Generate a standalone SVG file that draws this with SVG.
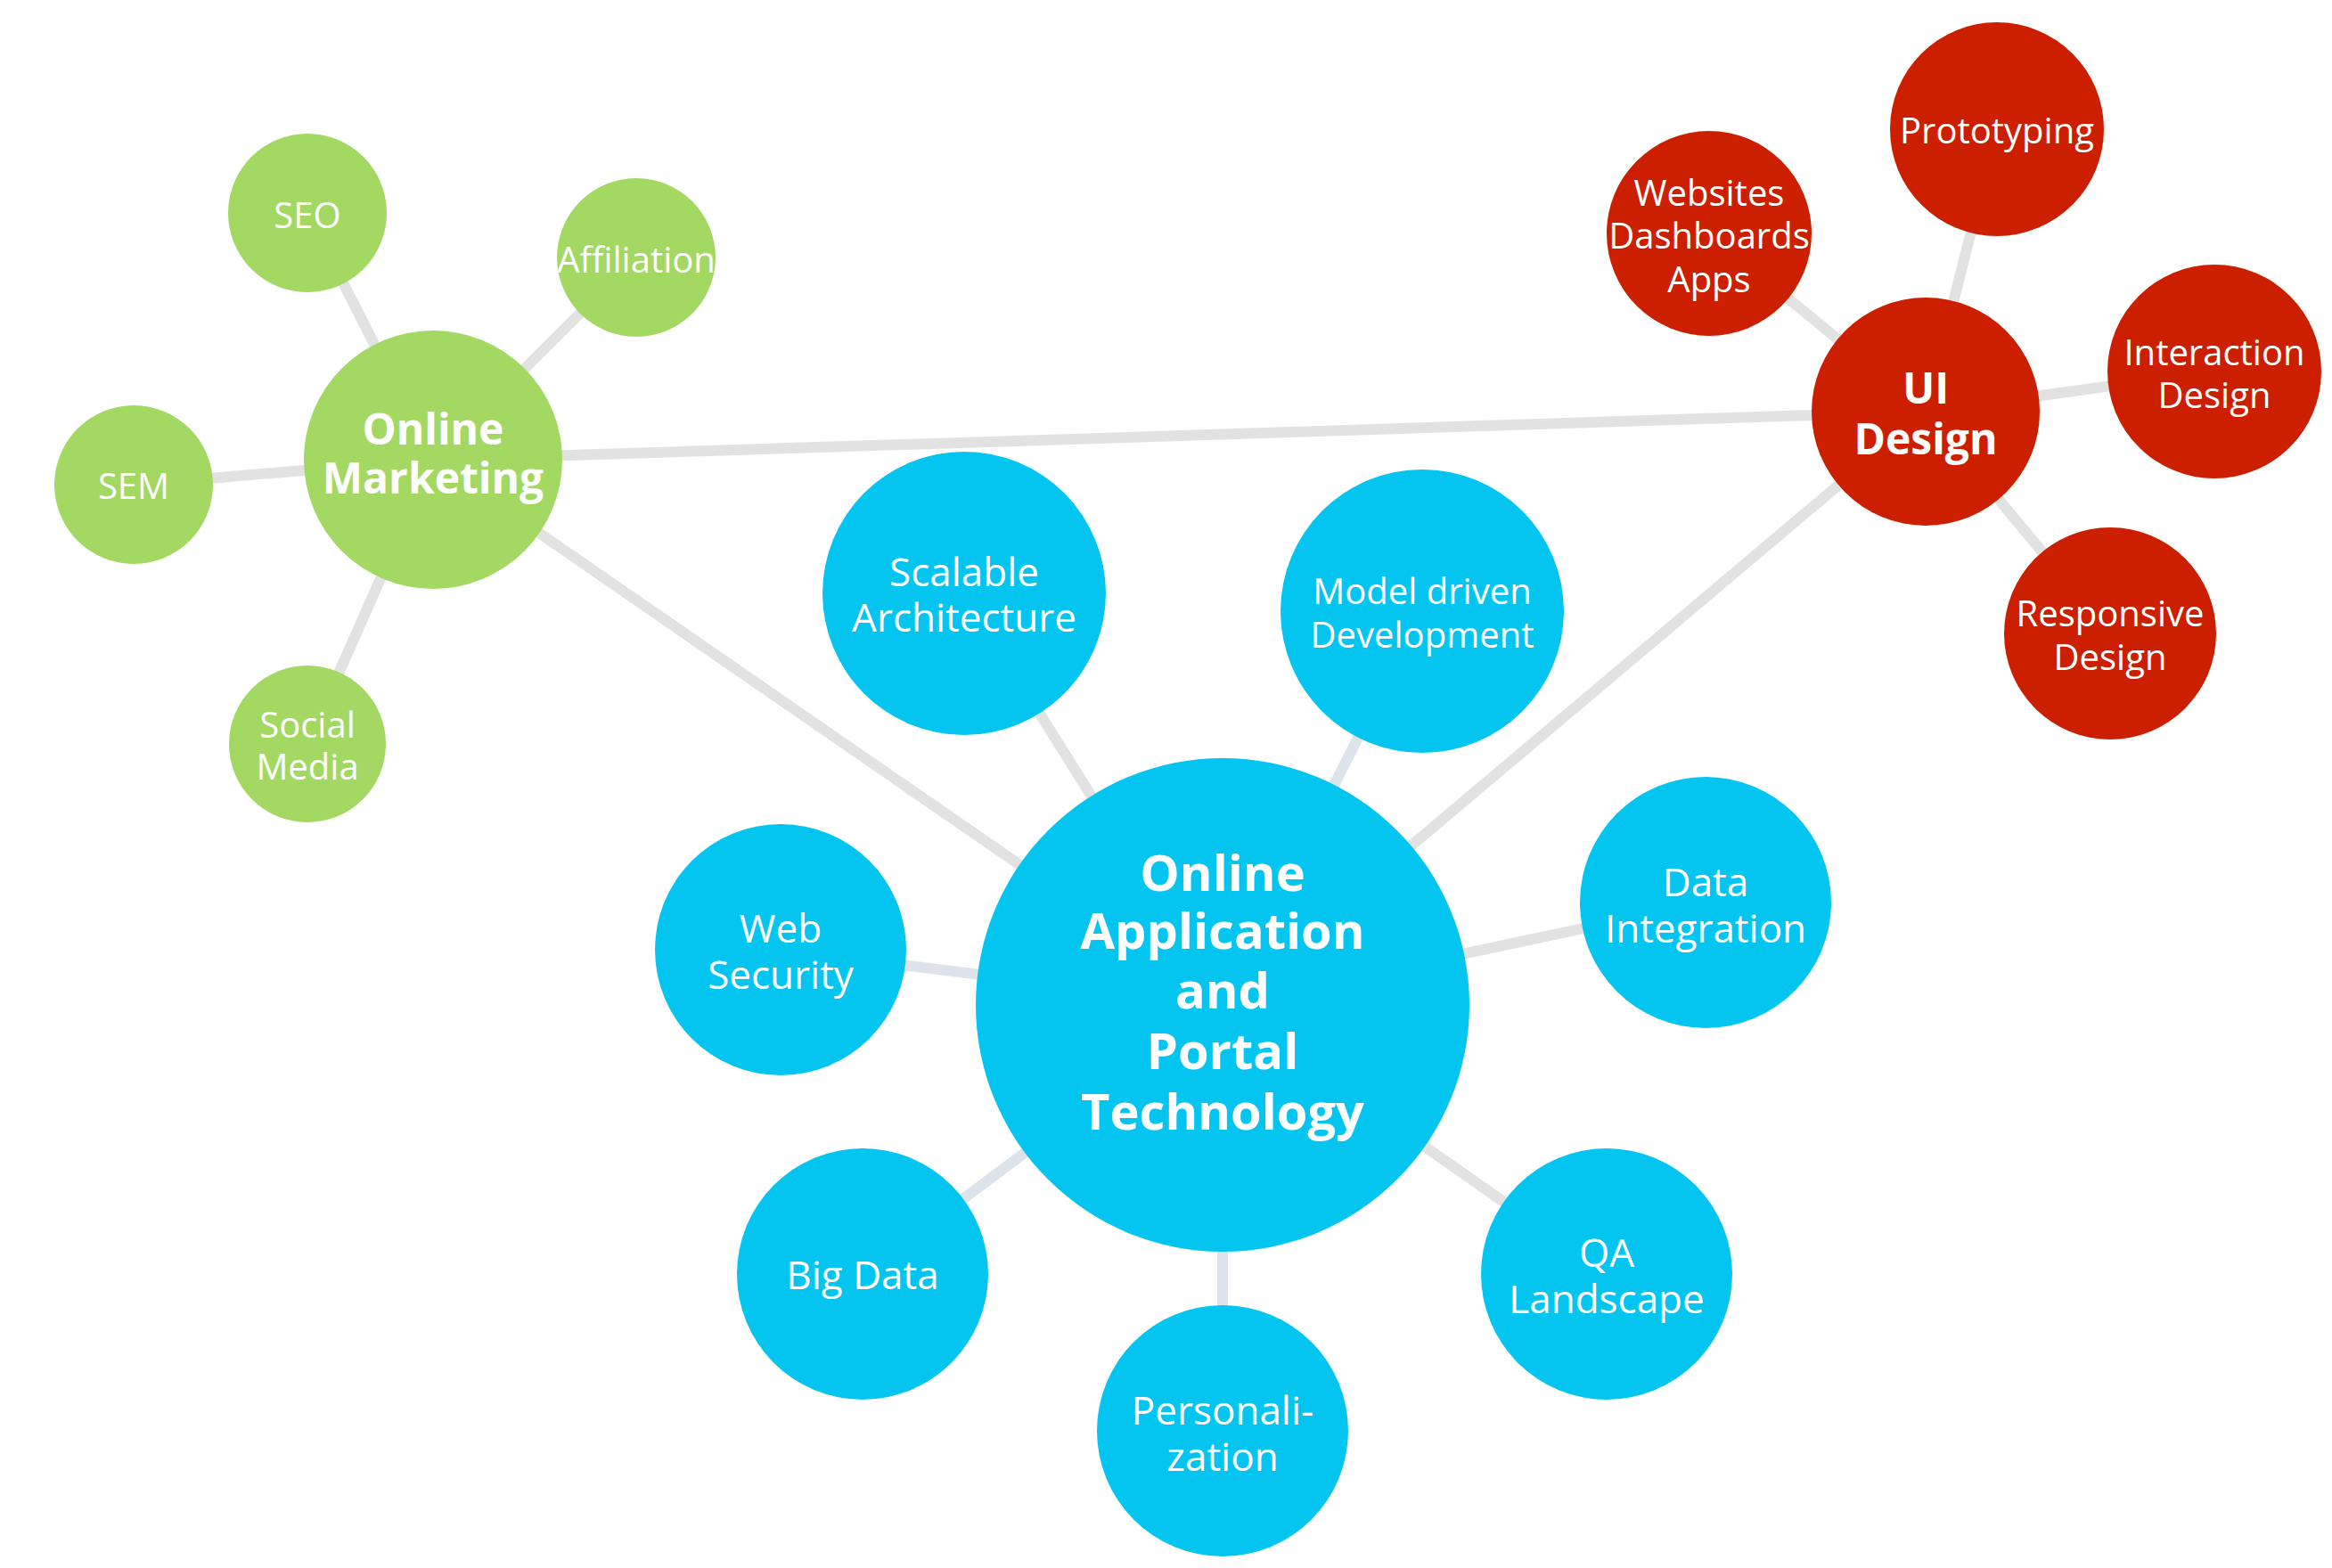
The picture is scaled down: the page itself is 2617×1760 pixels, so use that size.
<svg xmlns="http://www.w3.org/2000/svg" width="2617" height="1760" viewBox="0 0 2617 1760">
<style>
.bg{fill:#ffffff}
.g{fill:#a3d863}
.r{fill:#cc1f00}
.b{fill:#04c5f0}
.ln{stroke:#e2e2e2;stroke-width:12;fill:none}
.lb{stroke:#dde3ea;stroke-width:12;fill:none}
text{font-family:"Open Sans","Noto Sans","Liberation Sans",sans-serif;fill:#ffffff;text-anchor:middle}
.s40{font-size:40px}
.s44{font-size:44px}
.hb{font-size:48px;font-weight:700}
.hc{font-size:56px;font-weight:700}
</style>
<rect class="bg" x="0" y="0" width="2617" height="1760"/>
<g id="connectors">
<line class="ln" x1="486" y1="516" x2="345" y2="239"/>
<line class="ln" x1="486" y1="516" x2="714" y2="289"/>
<line class="ln" x1="486" y1="516" x2="150" y2="544"/>
<line class="ln" x1="486" y1="516" x2="345" y2="835"/>
<line class="ln" x1="486" y1="516" x2="2161" y2="462"/>
<line class="ln" x1="486" y1="516" x2="1372" y2="1128"/>
<line class="ln" x1="2161" y1="462" x2="1372" y2="1128"/>
<line class="ln" x1="2161" y1="462" x2="1918" y2="262"/>
<line class="ln" x1="2161" y1="462" x2="2241" y2="145"/>
<line class="ln" x1="2161" y1="462" x2="2485" y2="417"/>
<line class="ln" x1="2161" y1="462" x2="2368" y2="711"/>
<line class="ln" x1="1372" y1="1128" x2="1082" y2="666"/>
<line class="lb" x1="1372" y1="1128" x2="1596" y2="686"/>
<line class="ln" x1="1372" y1="1128" x2="1914" y2="1013"/>
<line class="lb" x1="1372" y1="1128" x2="876" y2="1066"/>
<line class="lb" x1="1372" y1="1128" x2="968" y2="1430"/>
<line class="lb" x1="1372" y1="1128" x2="1372" y2="1606"/>
<line class="ln" x1="1372" y1="1128" x2="1803" y2="1430"/>
</g>
<g id="online-marketing"><circle class="g" cx="486" cy="516" r="145"/><text class="hb" x="486" y="499">Online</text><text class="hb" x="486" y="554">Marketing</text></g>
<g id="seo"><circle class="g" cx="345" cy="239" r="89"/><text class="s40" x="345" y="256">SEO</text></g>
<g id="affiliation"><circle class="g" cx="714" cy="289" r="89"/><text class="s40" x="714" y="306">Affiliation</text></g>
<g id="sem"><circle class="g" cx="150" cy="544" r="89"/><text class="s40" x="150" y="560">SEM</text></g>
<g id="social-media"><circle class="g" cx="345" cy="835" r="88"/><text class="s40" x="345" y="828">Social</text><text class="s40" x="345" y="875">Media</text></g>
<g id="ui-design"><circle class="r" cx="2161" cy="462" r="128"/><text class="hb" x="2161" y="453">UI</text><text class="hb" x="2161" y="510">Design</text></g>
<g id="websites"><circle class="r" cx="1918" cy="262" r="115"/><text class="s40" x="1918" y="231">Websites</text><text class="s40" x="1918" y="279">Dashboards</text><text class="s40" x="1918" y="328">Apps</text></g>
<g id="prototyping"><circle class="r" cx="2241" cy="145" r="120"/><text class="s40" x="2241" y="161">Prototyping</text></g>
<g id="interaction-design"><circle class="r" cx="2485" cy="417" r="120"/><text class="s40" x="2485" y="410">Interaction</text><text class="s40" x="2485" y="458">Design</text></g>
<g id="responsive-design"><circle class="r" cx="2368" cy="711" r="119"/><text class="s40" x="2368" y="703">Responsive</text><text class="s40" x="2368" y="752">Design</text></g>
<g id="central"><circle class="b" cx="1372" cy="1128" r="277"/><text class="hc" x="1372" y="1000">Online</text><text class="hc" x="1372" y="1065">Application</text><text class="hc" x="1372" y="1132">and</text><text class="hc" x="1372" y="1200">Portal</text><text class="hc" x="1372" y="1268">Technology</text></g>
<g id="scalable-architecture"><circle class="b" cx="1082" cy="666" r="159"/><text class="s44" x="1082" y="658">Scalable</text><text class="s44" x="1082" y="709">Architecture</text></g>
<g id="model-driven"><circle class="b" cx="1596" cy="686" r="159"/><text class="s40" x="1596" y="678">Model driven</text><text class="s40" x="1596" y="727">Development</text></g>
<g id="data-integration"><circle class="b" cx="1914" cy="1013" r="141"/><text class="s44" x="1914" y="1006">Data</text><text class="s44" x="1914" y="1058">Integration</text></g>
<g id="web-security"><circle class="b" cx="876" cy="1066" r="141"/><text class="s44" x="876" y="1058">Web</text><text class="s44" x="876" y="1110">Security</text></g>
<g id="big-data"><circle class="b" cx="968" cy="1430" r="141"/><text class="s44" x="968" y="1447">Big Data</text></g>
<g id="personalization"><circle class="b" cx="1372" cy="1606" r="141"/><text class="s44" x="1372" y="1599">Personali-</text><text class="s44" x="1372" y="1651">zation</text></g>
<g id="qa-landscape"><circle class="b" cx="1803" cy="1430" r="141"/><text class="s44" x="1803" y="1422">QA</text><text class="s44" x="1803" y="1474">Landscape</text></g>
</svg>
